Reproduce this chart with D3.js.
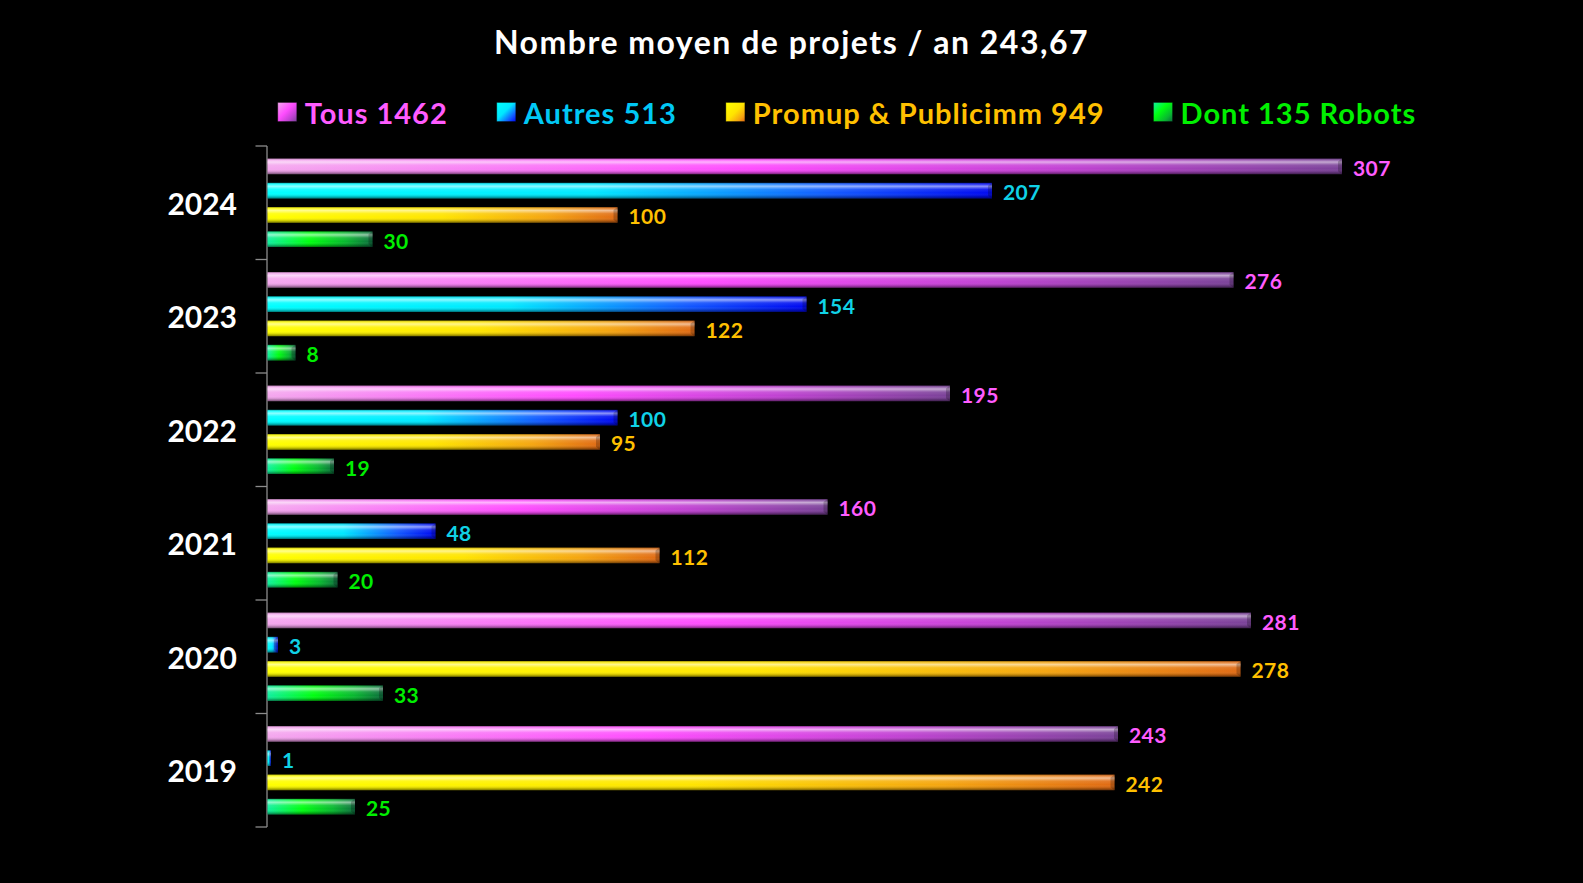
<!DOCTYPE html>
<html>
<head>
<meta charset="utf-8">
<script src="https://cdn.jsdelivr.net/npm/d3@7"></script>
<style>
  html, body { margin: 0; padding: 0; background: #000; }
  svg { display: block; }
</style>
</head>
<body>
<div class="projetsChart"></div>
<script>
// data
const title = 'Nombre moyen de projets / an 243,67';
const years = ['2024', '2023', '2022', '2021', '2020', '2019'];
const seriesKeys = ['tous', 'autres', 'promup', 'robots'];
const legendLabels = ['Tous 1462', 'Autres 513', 'Promup & Publicimm 949', 'Dont 135 Robots'];
const tous = [307, 276, 195, 160, 281, 243];
const autres = [207, 154, 100, 48, 3, 1];
const promup = [100, 122, 95, 112, 278, 242];
const robots = [30, 8, 19, 20, 33, 25];

function projetsChart() {
    var width = 1583, height = 883;
    var values = { tous: tous, autres: autres, promup: promup, robots: robots };

    // text colours + gradient stops for each serie
    var textColor = { tous: '#ff5cff', autres: '#00c8f5', promup: '#ffc000', robots: '#00f000' };
    var labelColor = { tous: '#ff5cff', autres: '#10d2e6', promup: '#ffc000', robots: '#00ee00' };
    var stops = {
        tous:   [[0, '#f4a8ee'], [0.45, '#ff4cff'], [0.75, '#c042d2'], [1, '#7a4298']],
        autres: [[0, '#00ffff'], [0.45, '#00e8ff'], [0.78, '#1258ff'], [1, '#0008f0']],
        promup: [[0, '#ffff00'], [0.5, '#ffe400'], [0.8, '#f5a510'], [1, '#e06a14']],
        robots: [[0, '#10f0a0'], [0.4, '#00ff10'], [0.75, '#08b830'], [1, '#0c6e3c']]
    };

    function drawGraph() {
        const svg = d3.select('.projetsChart')
            .append('svg')
            .attr('width', width)
            .attr('height', height);

        const defs = svg.append('defs');

        seriesKeys.forEach(function(k) {
            var g = defs.append('linearGradient')
                .attr('id', 'grad-' + k)
                .attr('x1', '0%').attr('x2', '100%').attr('y1', '0%').attr('y2', '0%');
            stops[k].forEach(function(s) {
                g.append('stop').attr('offset', s[0]).attr('stop-color', s[1]);
            });
            // legend square, diagonal
            var g2 = defs.append('linearGradient')
                .attr('id', 'sq-' + k)
                .attr('x1', '0%').attr('x2', '100%').attr('y1', '0%').attr('y2', '100%');
            stops[k].forEach(function(s) {
                g2.append('stop').attr('offset', s[0]).attr('stop-color', s[1]);
            });
        });

        // bevel look on top of the colour
        var bevel = defs.append('linearGradient')
            .attr('id', 'bevel')
            .attr('x1', '0%').attr('x2', '0%').attr('y1', '0%').attr('y2', '100%');
        [[0, '#000', 0.3], [0.1, '#fff', 0.2], [0.22, '#fff', 0.55], [0.42, '#fff', 0.1],
         [0.65, '#fff', 0], [0.85, '#000', 0.15], [1, '#000', 0.5]].forEach(function(s) {
            bevel.append('stop').attr('offset', s[0]).attr('stop-color', s[1]).attr('stop-opacity', s[2]);
        });

        // title
        svg.append('text')
            .attr('x', width / 2)
            .attr('y', 41)
            .attr('text-anchor', 'middle')
            .attr('dominant-baseline', 'central')
            .style('font-family', 'Lato, sans-serif')
            .style('font-weight', 'bold')
            .style('font-size', '32px')
            .style('letter-spacing', '1.5px')
            .style('fill', '#fff')
            .text(title);

        // scales
        var y = d3.scaleBand()
            .domain(years)
            .range([146, 827]);

        var ySub = d3.scaleBand()
            .domain(seriesKeys)
            .range([0, y.bandwidth()])
            .paddingInner(0.36)
            .paddingOuter(0.52);

        var x = d3.scaleLinear()
            .domain([0, 350])
            .range([267.5, 267.5 + 350 * 3.5]);

        // axis line + ticks between the years (excel style)
        svg.append('line')
            .attr('x1', x(0) - 0.5).attr('x2', x(0) - 0.5)
            .attr('y1', y.range()[0]).attr('y2', y.range()[1])
            .attr('stroke', '#8c8c8c')
            .attr('stroke-width', 1.3);

        var tickPos = years.map(function(d) { return y(d); }).concat([y.range()[1]]);
        svg.selectAll('.tick')
            .data(tickPos)
            .enter()
            .append('line')
            .attr('x1', x(0) - 12).attr('x2', x(0) - 0.5)
            .attr('y1', function(d) { return d; })
            .attr('y2', function(d) { return d; })
            .attr('stroke', '#8c8c8c')
            .attr('stroke-width', 1.3);

        svg.selectAll('.yearLabel')
            .data(years)
            .enter()
            .append('text')
            .attr('x', 237)
            .attr('y', function(d) { return y(d) + y.bandwidth() / 2; })
            .attr('text-anchor', 'end')
            .attr('dominant-baseline', 'central')
            .style('font-family', 'Lato, sans-serif')
            .style('font-weight', 'bold')
            .style('font-size', '30px')
            .style('fill', '#fff')
            .text(function(d) { return d; });

        // flat list of bars
        var bars = [];
        years.forEach(function(yr, i) {
            seriesKeys.forEach(function(k) {
                bars.push({ year: yr, key: k, value: values[k][i] });
            });
        });

        var barG = svg.selectAll('.bar')
            .data(bars)
            .enter()
            .append('g')
            .attr('transform', function(d) { return 'translate(0,' + (y(d.year) + ySub(d.key)) + ')'; });

        barG.append('rect')
            .attr('x', x(0))
            .attr('y', 0)
            .attr('width', function(d) { return x(d.value) - x(0); })
            .attr('height', ySub.bandwidth())
            .attr('fill', function(d) { return 'url(#grad-' + d.key + ')'; });

        barG.append('rect')
            .attr('x', x(0))
            .attr('y', 0)
            .attr('width', function(d) { return x(d.value) - x(0); })
            .attr('height', ySub.bandwidth())
            .attr('fill', 'url(#bevel)');

        // small bevel at the right end of each bar
        barG.append('path')
            .attr('d', function(d) {
                var x1 = x(d.value), h = ySub.bandwidth();
                var e = Math.min(4, (x1 - x(0)) / 2);
                return 'M' + x1 + ',0 L' + x1 + ',' + h + ' L' + (x1 - e) + ',' + (h - 3) + ' L' + (x1 - e) + ',3 Z';
            })
            .attr('fill', '#000')
            .attr('fill-opacity', 0.22);

        // value labels
        barG.append('text')
            .attr('x', function(d) { return x(d.value) + 11; })
            .attr('y', ySub.bandwidth() / 2 + 1)
            .attr('dominant-baseline', 'central')
            .style('font-family', 'Lato, sans-serif')
            .style('font-weight', 'bold')
            .style('font-size', '21px')
            .style('letter-spacing', '0.4px')
            .style('fill', function(d) { return labelColor[d.key]; })
            .text(function(d) { return d.value; });

        // legend, laid out from text widths, centred on the plot
        var legend = svg.append('g');
        var items = legend.selectAll('.legendItem')
            .data(seriesKeys)
            .enter()
            .append('g');

        items.append('rect')
            .attr('x', 0).attr('y', -9.5)
            .attr('width', 19).attr('height', 19)
            .attr('fill', function(d) { return 'url(#sq-' + d + ')'; })
            .attr('stroke', '#000')
            .attr('stroke-opacity', 0.3);

        items.append('text')
            .attr('x', 27)
            .attr('y', 0)
            .attr('dominant-baseline', 'central')
            .style('font-family', 'Lato, sans-serif')
            .style('font-weight', 'bold')
            .style('font-size', '29px')
            .style('letter-spacing', '1px')
            .style('fill', function(d) { return textColor[d]; })
            .text(function(d, i) { return legendLabels[i]; });

        var gap = 49;
        var cursor = 0;
        items.each(function() {
            var w = this.querySelector('text').getComputedTextLength();
            d3.select(this).attr('transform', 'translate(' + cursor + ',0)');
            cursor += 27 + w + gap;
        });
        var total = cursor - gap;
        legend.attr('transform', 'translate(' + (847 - total / 2) + ',112)');
    }

    function init() {
        drawGraph();
    }
    init();
}
projetsChart();
</script>
</body>
</html>
